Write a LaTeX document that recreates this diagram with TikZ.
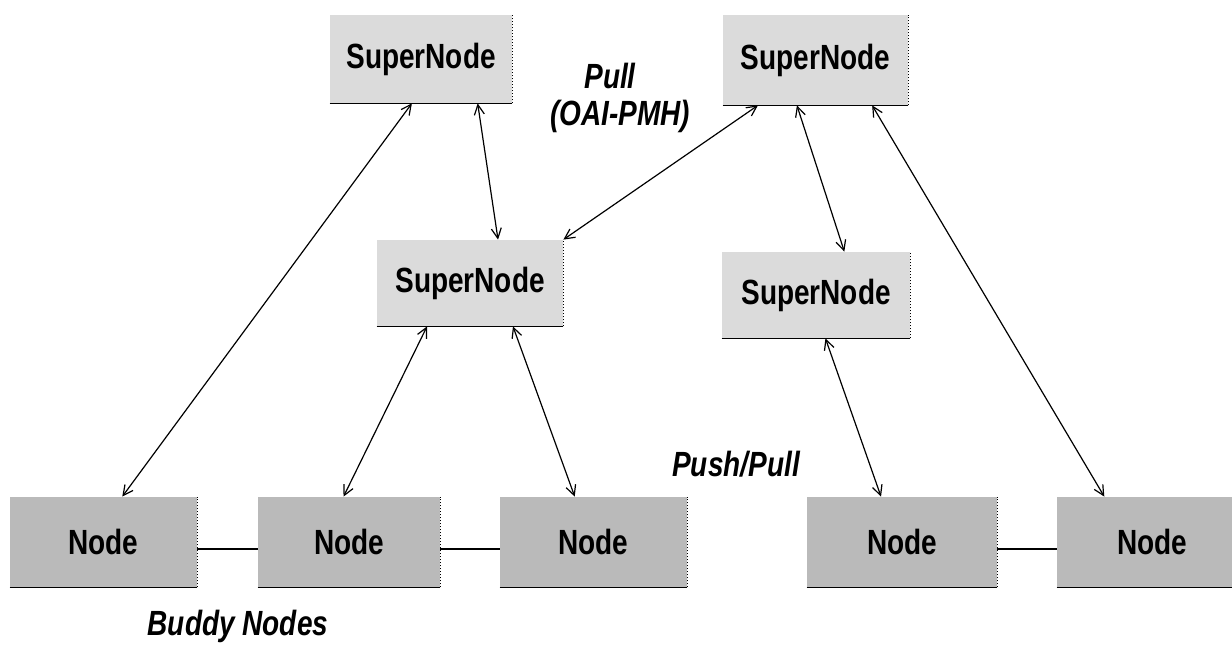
\documentclass[tikz,border=0pt]{standalone}
\usepackage{fontspec}
\setmainfont{Liberation Sans}
\usetikzlibrary{arrows.meta,calc}
% narrow, tall lettering used throughout
\newcommand{\tall}[1]{\scalebox{1}[1.25]{#1}}
\begin{document}
\begin{tikzpicture}[x=0.5pt,y=-0.5pt,
  boxfont/.style={font=\fontsize{14pt}{17pt}\selectfont\bfseries},
  superbox/.style={rectangle,fill=black!14,inner sep=0pt,boxfont},
  nodebox/.style={rectangle,fill=black!27,inner sep=0pt,minimum height=45pt,boxfont},
  link/.style={line width=0.6pt,{Straight Barb[length=5pt,width=5pt]}-{Straight Barb[length=5pt,width=5pt]}},
  buddy/.style={line width=0.7pt},
  edgebottom/.style={line width=0.8pt},
  edgeright/.style={line width=0.5pt,densely dotted},
  lbl/.style={anchor=base,inner sep=0pt,font=\fontsize{14pt}{17pt}\selectfont\bfseries\itshape}]
\useasboundingbox (0,0) rectangle (1232,647);
\fill[white] (0,0) rectangle (1232,647);

% super nodes
\node[superbox,minimum width=91pt,minimum height=44pt] (tl) at (421,59) {\tall{SuperNode}};
\node[superbox,minimum width=92.5pt,minimum height=45pt] (tr) at (815.5,60) {\tall{SuperNode}};
\node[superbox,minimum width=93pt,minimum height=43pt] (ms) at (470,283) {\tall{SuperNode}};
\node[superbox,minimum width=94pt,minimum height=43pt] (rs) at (816,295) {\tall{SuperNode}};

% leaf nodes
\node[nodebox,minimum width=93.5pt] (n1) at (103.5,542) {\tall{Node}};
\node[nodebox,minimum width=91pt] (n2) at (349,542) {\tall{Node}};
\node[nodebox,minimum width=93.5pt] (n3) at (593.5,542) {\tall{Node}};
\node[nodebox,minimum width=95pt] (n4) at (902,542) {\tall{Node}};
\node[nodebox,minimum width=95pt] (n5) at (1152,542) {\tall{Node}};

% shadow edges of the boxes
\foreach \b in {tl,tr,ms,rs,n1,n2,n3,n4,n5}{
  \draw[edgebottom] (\b.south west) -- (\b.south east);
  \draw[edgeright] (\b.south east) -- (\b.north east);
}

% buddy links
\draw[buddy] ([yshift=-3.5pt]n1.east) -- ([yshift=-3.5pt]n2.west);
\draw[buddy] ([yshift=-3.5pt]n2.east) -- ([yshift=-3.5pt]n3.west);
\draw[buddy] ([yshift=-3.5pt]n4.east) -- ([yshift=-3.5pt]n5.west);

% harvesting links
\draw[link] ($(n1.north west)!0.6!(n1.north east)$) -- ($(tl.south west)!0.45!(tl.south east)$);
\draw[link] ($(tl.south west)!0.81!(tl.south east)$) -- ($(ms.north west)!0.65!(ms.north east)$);
\draw[link] ($(tr.south west)!0.19!(tr.south east)$) -- (ms.north east);
\draw[link] ($(tr.south west)!0.40!(tr.south east)$) -- ($(rs.north west)!0.65!(rs.north east)$);
\draw[link] ($(tr.south west)!0.805!(tr.south east)$) -- ($(n5.north west)!0.25!(n5.north east)$);
\draw[link] ($(ms.south west)!0.27!(ms.south east)$) -- ($(n2.north west)!0.47!(n2.north east)$);
\draw[link] ($(ms.south west)!0.73!(ms.south east)$) -- ($(n3.north west)!0.40!(n3.north east)$);
\draw[link] ($(rs.south west)!0.55!(rs.south east)$) -- ($(n4.north west)!0.39!(n4.north east)$);

% labels (placed by their baselines)
\node[lbl] (pull) at (610,89) {\tall{Pull}};
\node[lbl] (oai) at (620,126) {\tall{(OAI-PMH)}};
\node[lbl] (pp) at (736,476) {\tall{Push/Pull}};
\node[lbl] (bud) at (238,635) {\tall{Buddy Nodes}};
\end{tikzpicture}
\end{document}
